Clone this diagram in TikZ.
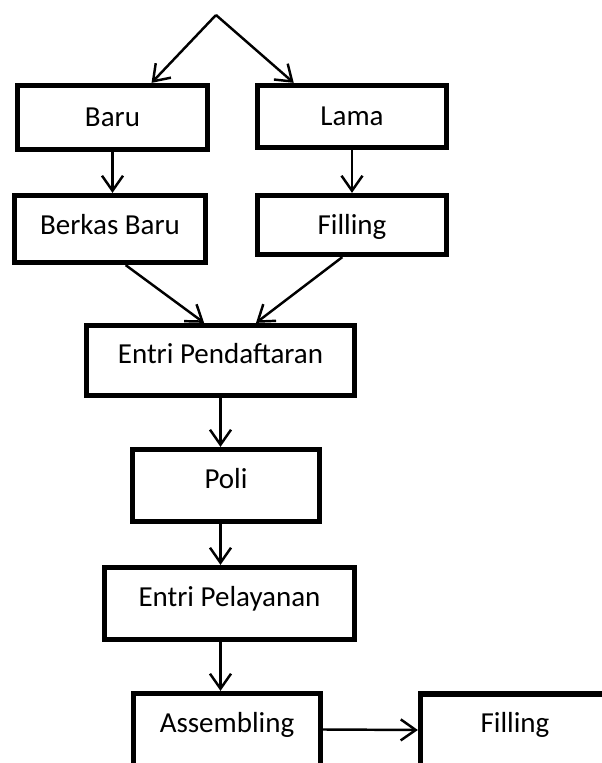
\documentclass[tikz,border=0pt]{standalone}
\usepackage{fontspec}
\setmainfont{Carlito}
\usetikzlibrary{arrows.meta}
\usetikzlibrary{calc}

\begin{document}
\begin{tikzpicture}[line width=1.4pt, black, align=center,
    box/.style={draw, line width=3pt, inner sep=0pt, font=\fontsize{16.5}{20}\selectfont, text height=10.6pt, text depth=0pt},
    low/.style={text depth=7.4pt},
    flow/.style={-{Straight Barb[length=3mm,width=4.2mm]}}]
  \useasboundingbox (0,0) rectangle (12.04,15.26);
  \coordinate (top) at (4.32,14.96);
  \node[box, minimum width=3.8cm, minimum height=1.28cm] (baru) at (2.25,12.91) {Baru};
  \node[box, minimum width=3.78cm, minimum height=1.24cm] (lama) at (7.04,12.93) {Lama};
  \node[box, text depth=4.6pt, minimum width=3.82cm, minimum height=1.34cm] (berkas) at (2.2,10.68) {Berkas Baru};
  \node[box, minimum width=3.78cm, minimum height=1.18cm] (fillA) at (7.04,10.76) {Filling};
  \node[box, low, minimum width=5.36cm, minimum height=1.4cm] (daftar) at (4.41,8.05) {Entri Pendaftaran};
  \node[box, low, minimum width=3.74cm, minimum height=1.44cm] (poli) at (4.52,5.55) {Poli};
  \node[box, low, minimum width=5cm, minimum height=1.44cm] (layan) at (4.59,3.19) {Entri Pelayanan};
  \node[box, low, minimum width=3.74cm, minimum height=1.44cm] (assemb) at (4.54,0.67) {Assembling};
  \node[box, low, minimum width=3.78cm, minimum height=1.44cm] (fillB) at (10.3,0.66) {Filling};

  \draw[flow] (top) -- ($(baru.north west)!0.7!(baru.north east)$);
  \draw[flow] (top) -- ($(lama.north west)!0.2!(lama.north east)$);
  \draw[flow] (baru.south) -- (baru.south |- berkas.north);
  \draw[flow] (lama.south) -- (lama.south |- fillA.north);
  \draw[flow] ($(berkas.south west)!0.58!(berkas.south east)$) -- ($(daftar.north west)!0.44!(daftar.north east)$);
  \draw[flow] ($(fillA.south west)!0.45!(fillA.south east)$) -- ($(daftar.north west)!0.63!(daftar.north east)$);
  \draw[flow] (daftar.south) -- (daftar.south |- poli.north);
  \draw[flow] (poli.south -| daftar.south) -- (daftar.south |- layan.north);
  \draw[flow] (layan.south -| daftar.south) -- (daftar.south |- assemb.north);
  \draw[flow] (assemb.east) -- (fillB.west);
\end{tikzpicture}
\end{document}
